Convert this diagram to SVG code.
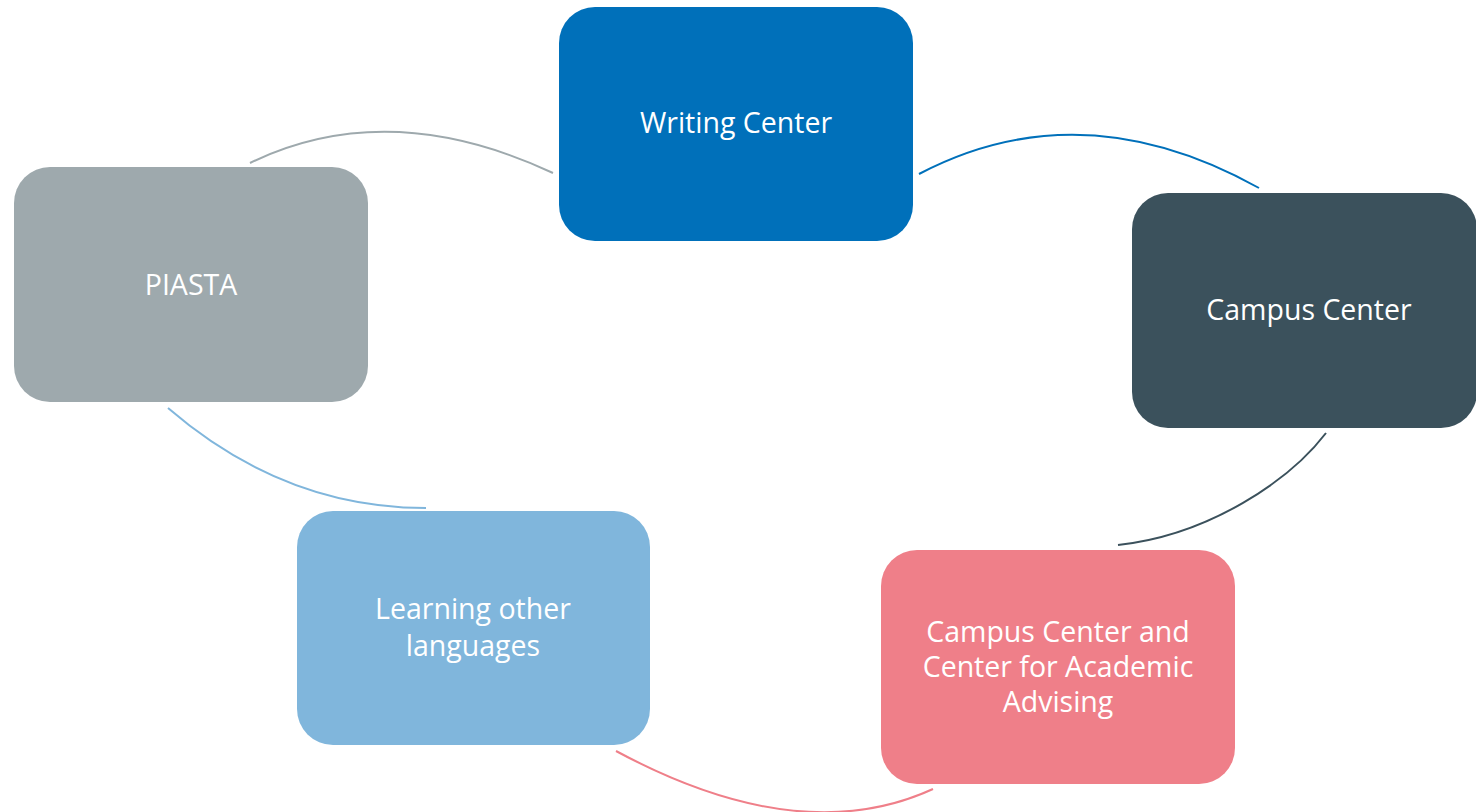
<svg xmlns="http://www.w3.org/2000/svg" width="1476" height="812" viewBox="0 0 1476 812">
<style>
.lbl{font-family:"Open Sans","Noto Sans","Liberation Sans",sans-serif;font-size:28.5px;fill:#ffffff;text-anchor:middle}
.arc{fill:none;stroke-width:2}
</style>
<rect width="1476" height="812" fill="#ffffff"/>
<g id="connectors">
<path class="arc" stroke="#9EA9AD" d="M250,163 Q388,96 553,173"/>
<path class="arc" stroke="#0070BA" d="M919,174 Q1081,89 1259,188"/>
<path class="arc" stroke="#3B515C" d="M1326,433 C1290,480 1210,535 1118,545"/>
<path class="arc" stroke="#EF7F89" d="M616,751 Q800,850 933,789"/>
<path class="arc" stroke="#80B6DC" d="M168,408 Q284,508 426,508"/>
</g>
<g id="writing-center">
<rect x="559" y="7" width="354" height="234" rx="36" fill="#0070BA"/>
<text class="lbl" x="736" y="133">Writing Center</text>
</g>
<g id="campus-center">
<rect x="1132" y="193" width="345" height="235" rx="36" fill="#3B515C"/>
<text class="lbl" x="1309" y="320">Campus Center</text>
</g>
<g id="piasta">
<rect x="14" y="167" width="354" height="235" rx="36" fill="#9EA9AD"/>
<text class="lbl" x="191" y="295">PIASTA</text>
</g>
<g id="learning-languages">
<rect x="297" y="511" width="353" height="234" rx="36" fill="#80B6DC"/>
<text class="lbl" x="473" y="619">Learning other</text>
<text class="lbl" x="473" y="656">languages</text>
</g>
<g id="academic-advising">
<rect x="881" y="550" width="354" height="234" rx="36" fill="#EF7F89"/>
<text class="lbl" x="1058" y="642">Campus Center and</text>
<text class="lbl" x="1058" y="677">Center for Academic</text>
<text class="lbl" x="1058" y="712">Advising</text>
</g>
</svg>
